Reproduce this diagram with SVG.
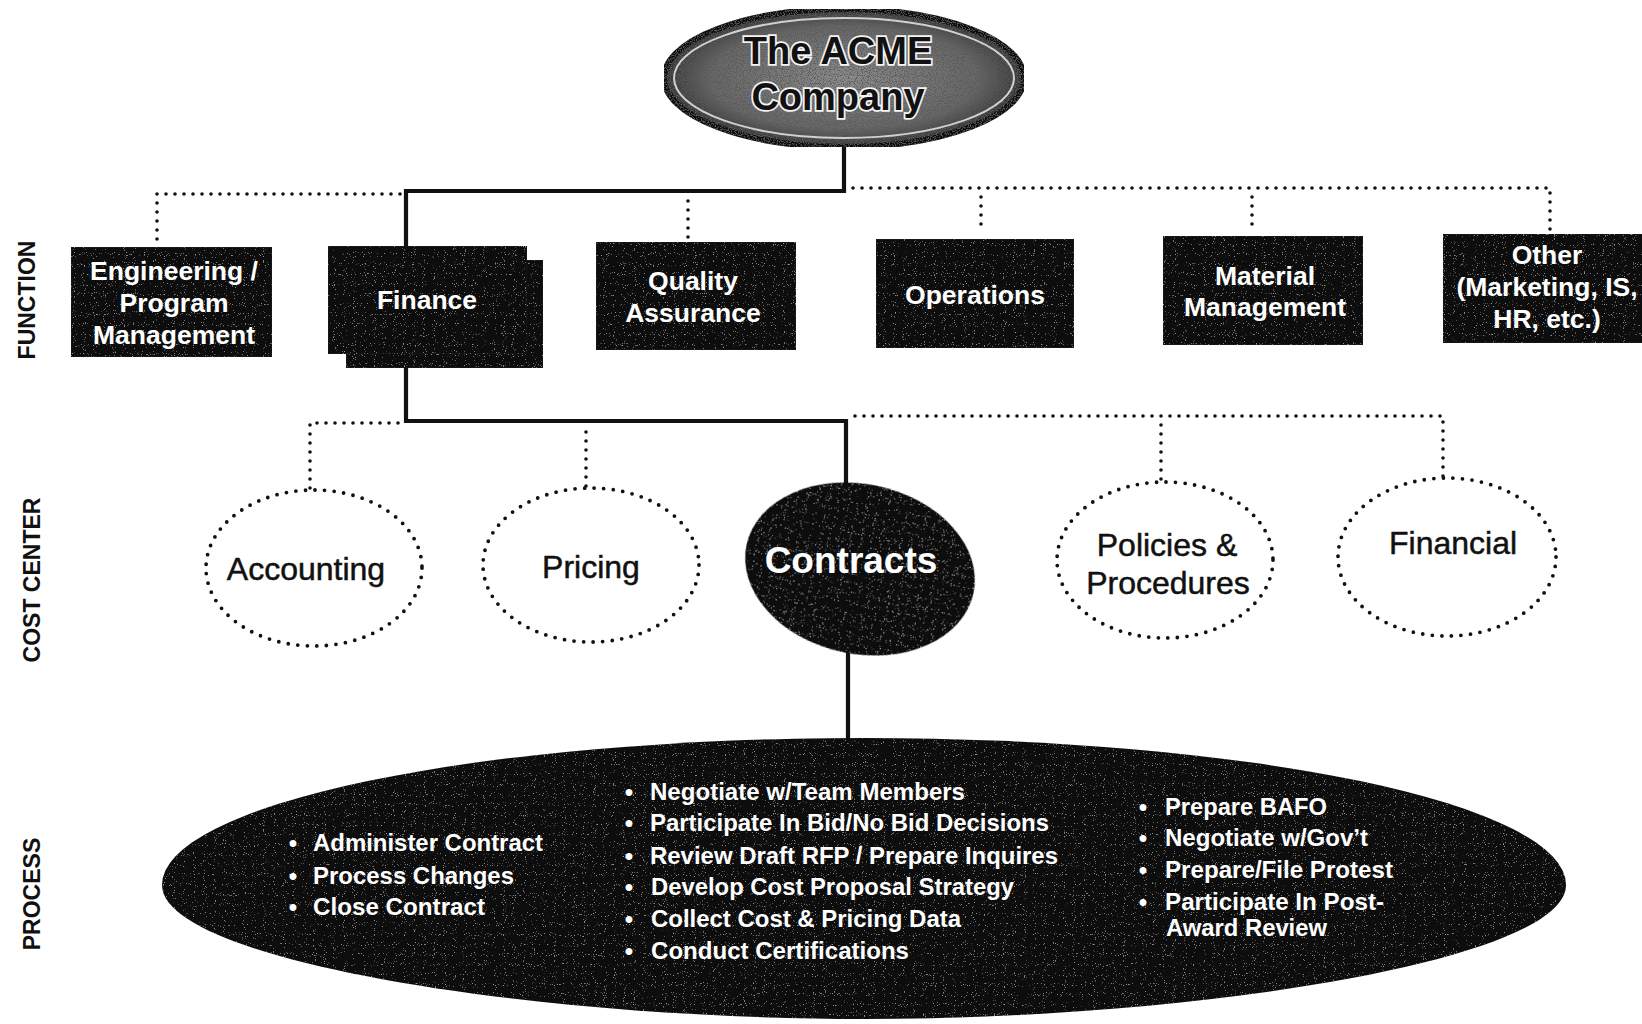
<svg xmlns="http://www.w3.org/2000/svg" width="1642" height="1024" viewBox="0 0 1642 1024">
<style>
  .solid{fill:none;stroke:#111;stroke-width:4.2;stroke-linejoin:miter}
  .dot{fill:none;stroke:#111;stroke-width:3.6;stroke-linecap:round;stroke-dasharray:0 9}
  .dotc{fill:none;stroke:#111;stroke-width:3.8;stroke-linecap:round;stroke-dasharray:0 9.6}
  .box{fill:#0c0c0c;stroke:#1a1a1a;stroke-width:1}
  .bt{font-family:"Liberation Sans",Arial,sans-serif;font-weight:bold;font-size:26.5px;fill:#fff;text-anchor:middle}
  .ct{font-family:"Liberation Sans",Arial,sans-serif;font-size:32px;fill:#111;stroke:#111;stroke-width:0.5;text-anchor:middle}
  .side{font-family:"Liberation Sans",Arial,sans-serif;font-weight:bold;font-size:23px;fill:#111;text-anchor:middle}
  .pt{font-family:"Liberation Sans",Arial,sans-serif;font-weight:bold;font-size:24px;fill:#fff}
  .bl{font-family:"Liberation Sans",Arial,sans-serif;font-weight:bold;font-size:24px;fill:#fff;text-anchor:middle}
  .top{font-family:"Liberation Sans",Arial,sans-serif;font-weight:bold;font-size:38px;fill:#111;stroke:#f4f4f4;stroke-width:3.5;paint-order:stroke;text-anchor:middle}
</style>
<defs>
  <radialGradient id="topg" cx="0.5" cy="0.5" r="0.5">
    <stop offset="0" stop-color="#8c8c8c"/>
    <stop offset="0.75" stop-color="#666"/>
    <stop offset="1" stop-color="#333"/>
  </radialGradient>
  <filter id="grain" x="0" y="0" width="1" height="1">
    <feTurbulence type="fractalNoise" baseFrequency="0.9" numOctaves="1" seed="3" result="n"/>
    <feColorMatrix in="n" type="matrix" values="0 0 0 0 0.3  0 0 0 0 0.3  0 0 0 0 0.3  10 0 0 0 -6.6" result="m"/>
    <feComposite in="m" in2="SourceGraphic" operator="in" result="c"/>
    <feMerge><feMergeNode in="SourceGraphic"/><feMergeNode in="c"/></feMerge>
  </filter>
  <filter id="graintop" x="0" y="0" width="1" height="1">
    <feTurbulence type="fractalNoise" baseFrequency="0.85" numOctaves="1" seed="7" result="n"/>
    <feColorMatrix in="n" type="matrix" values="0 0 0 0 0.1  0 0 0 0 0.1  0 0 0 0 0.1  -6 0 0 0 3.1" result="m"/>
    <feComposite in="m" in2="SourceGraphic" operator="in" result="c"/>
    <feMerge><feMergeNode in="SourceGraphic"/><feMergeNode in="c"/></feMerge>
  </filter>
</defs>
<rect width="1642" height="1024" fill="#fff"/>

<!-- side labels -->
<g id="labels">
  <text class="side" transform="translate(35,300) rotate(-90)">FUNCTION</text>
  <text class="side" transform="translate(40,580) rotate(-90)">COST CENTER</text>
  <text class="side" transform="translate(40,894) rotate(-90)">PROCESS</text>
</g>

<!-- connectors -->
<g id="connectors">
  <polyline class="solid" points="844,146 844,191 406,191 406,247"/>
  <polyline class="dot" points="400,194 157,194 157,243"/>
  <polyline class="dot" points="853,188 1550,188 1550,231"/>
  <line class="dot" x1="688" y1="201" x2="688" y2="238"/>
  <line class="dot" x1="981" y1="197" x2="981" y2="233"/>
  <line class="dot" x1="1252" y1="197" x2="1252" y2="231"/>
  <polyline class="solid" points="406,366 406,421 846,421 846,486"/>
  <polyline class="dot" points="398,423 310,423 310,489"/>
  <line class="dot" x1="586" y1="432" x2="586" y2="487"/>
  <polyline class="dot" points="855,416 1443,416 1443,480"/>
  <line class="dot" x1="1161" y1="425" x2="1161" y2="482"/>
  <line class="solid" x1="848" y1="652" x2="848" y2="740"/>
</g>

<!-- top node -->
<g id="acme">
  <ellipse cx="844" cy="78" rx="180" ry="69" fill="url(#topg)" stroke="#111" stroke-width="6" filter="url(#graintop)"/>
  <ellipse cx="844" cy="78" rx="170" ry="60" fill="none" stroke="#d0d0d0" stroke-width="2"/>
  <text class="top" x="838" y="64">The ACME</text>
  <text class="top" x="838" y="110">Company</text>
</g>

<!-- function boxes -->
<g id="eng">
  <rect class="box" x="71" y="247" width="201" height="110" filter="url(#grain)"/>
  <text class="bt" x="174" y="280">Engineering /</text>
  <text class="bt" x="174" y="312">Program</text>
  <text class="bt" x="174" y="344">Management</text>
</g>
<g id="finance">
  <rect class="box" x="346" y="260" width="197" height="108" filter="url(#grain)"/>
  <rect class="box" x="328" y="246" width="199" height="108" filter="url(#grain)"/>
  <text class="bt" x="427" y="309">Finance</text>
</g>
<g id="qa">
  <rect class="box" x="596" y="242" width="200" height="108" filter="url(#grain)"/>
  <text class="bt" x="693" y="290">Quality</text>
  <text class="bt" x="693" y="322">Assurance</text>
</g>
<g id="operations">
  <rect class="box" x="876" y="239" width="198" height="109" filter="url(#grain)"/>
  <text class="bt" x="975" y="304">Operations</text>
</g>
<g id="material">
  <rect class="box" x="1163" y="236" width="200" height="109" filter="url(#grain)"/>
  <text class="bt" x="1265" y="285">Material</text>
  <text class="bt" x="1265" y="316">Management</text>
</g>
<g id="other">
  <rect class="box" x="1443" y="234" width="205" height="109" filter="url(#grain)"/>
  <text class="bt" x="1547" y="264">Other</text>
  <text class="bt" x="1547" y="296">(Marketing, IS,</text>
  <text class="bt" x="1547" y="328">HR, etc.)</text>
</g>

<!-- cost centers -->
<g id="accounting">
  <ellipse class="dotc" cx="314" cy="568" rx="108" ry="78"/>
  <text class="ct" x="306" y="580">Accounting</text>
</g>
<g id="pricing">
  <ellipse class="dotc" cx="591" cy="565" rx="108" ry="77"/>
  <text class="ct" x="591" y="578">Pricing</text>
</g>
<g id="contracts">
  <ellipse cx="860" cy="569" rx="116" ry="85" transform="rotate(12 860 569)" fill="#0c0c0c" filter="url(#grain)"/>
  <text x="851" y="573" text-anchor="middle" font-family="Liberation Sans, Arial, sans-serif" font-weight="bold" font-size="37" fill="#fff">Contracts</text>
</g>
<g id="policies">
  <ellipse class="dotc" cx="1165" cy="560" rx="108" ry="78"/>
  <text class="ct" x="1167" y="556">Policies &amp;</text>
  <text class="ct" x="1168" y="594">Procedures</text>
</g>
<g id="financial">
  <ellipse class="dotc" cx="1447" cy="557" rx="109" ry="79"/>
  <text class="ct" x="1453" y="554">Financial</text>
</g>

<!-- process -->
<g id="process">
  <path d="M162,885 A702,147 0 0 1 1566,885 C1566,960 1200,1019 864,1019 C528,1019 162,960 162,885 Z" fill="#0c0c0c" filter="url(#grain)"/>
  <g class="bl">
    <text x="293" y="851">•</text>
    <text x="293" y="884">•</text>
    <text x="293" y="915">•</text>
    <text x="629" y="800">•</text>
    <text x="629" y="831">•</text>
    <text x="629" y="864">•</text>
    <text x="629" y="895">•</text>
    <text x="629" y="927">•</text>
    <text x="629" y="959">•</text>
    <text x="1143" y="815">•</text>
    <text x="1143" y="846">•</text>
    <text x="1143" y="878">•</text>
    <text x="1143" y="910">•</text>
  </g>
  <g class="pt">
    <text x="313" y="851" textLength="230" lengthAdjust="spacingAndGlyphs">Administer Contract</text>
    <text x="313" y="884" textLength="201" lengthAdjust="spacingAndGlyphs">Process Changes</text>
    <text x="313" y="915" textLength="172" lengthAdjust="spacingAndGlyphs">Close Contract</text>
    <text x="650" y="800" textLength="315" lengthAdjust="spacingAndGlyphs">Negotiate w/Team Members</text>
    <text x="650" y="831" textLength="399" lengthAdjust="spacingAndGlyphs">Participate In Bid/No Bid Decisions</text>
    <text x="650" y="864" textLength="408" lengthAdjust="spacingAndGlyphs">Review Draft RFP / Prepare Inquires</text>
    <text x="651" y="895" textLength="363" lengthAdjust="spacingAndGlyphs">Develop Cost Proposal Strategy</text>
    <text x="651" y="927" textLength="310" lengthAdjust="spacingAndGlyphs">Collect Cost &amp; Pricing Data</text>
    <text x="651" y="959" textLength="258" lengthAdjust="spacingAndGlyphs">Conduct Certifications</text>
    <text x="1165" y="815" textLength="162" lengthAdjust="spacingAndGlyphs">Prepare BAFO</text>
    <text x="1165" y="846" textLength="203" lengthAdjust="spacingAndGlyphs">Negotiate w/Gov’t</text>
    <text x="1165" y="878" textLength="228" lengthAdjust="spacingAndGlyphs">Prepare/File Protest</text>
    <text x="1165" y="910" textLength="219" lengthAdjust="spacingAndGlyphs">Participate In Post-</text>
    <text x="1166" y="936" textLength="161" lengthAdjust="spacingAndGlyphs">Award Review</text>
  </g>
</g>
</svg>
